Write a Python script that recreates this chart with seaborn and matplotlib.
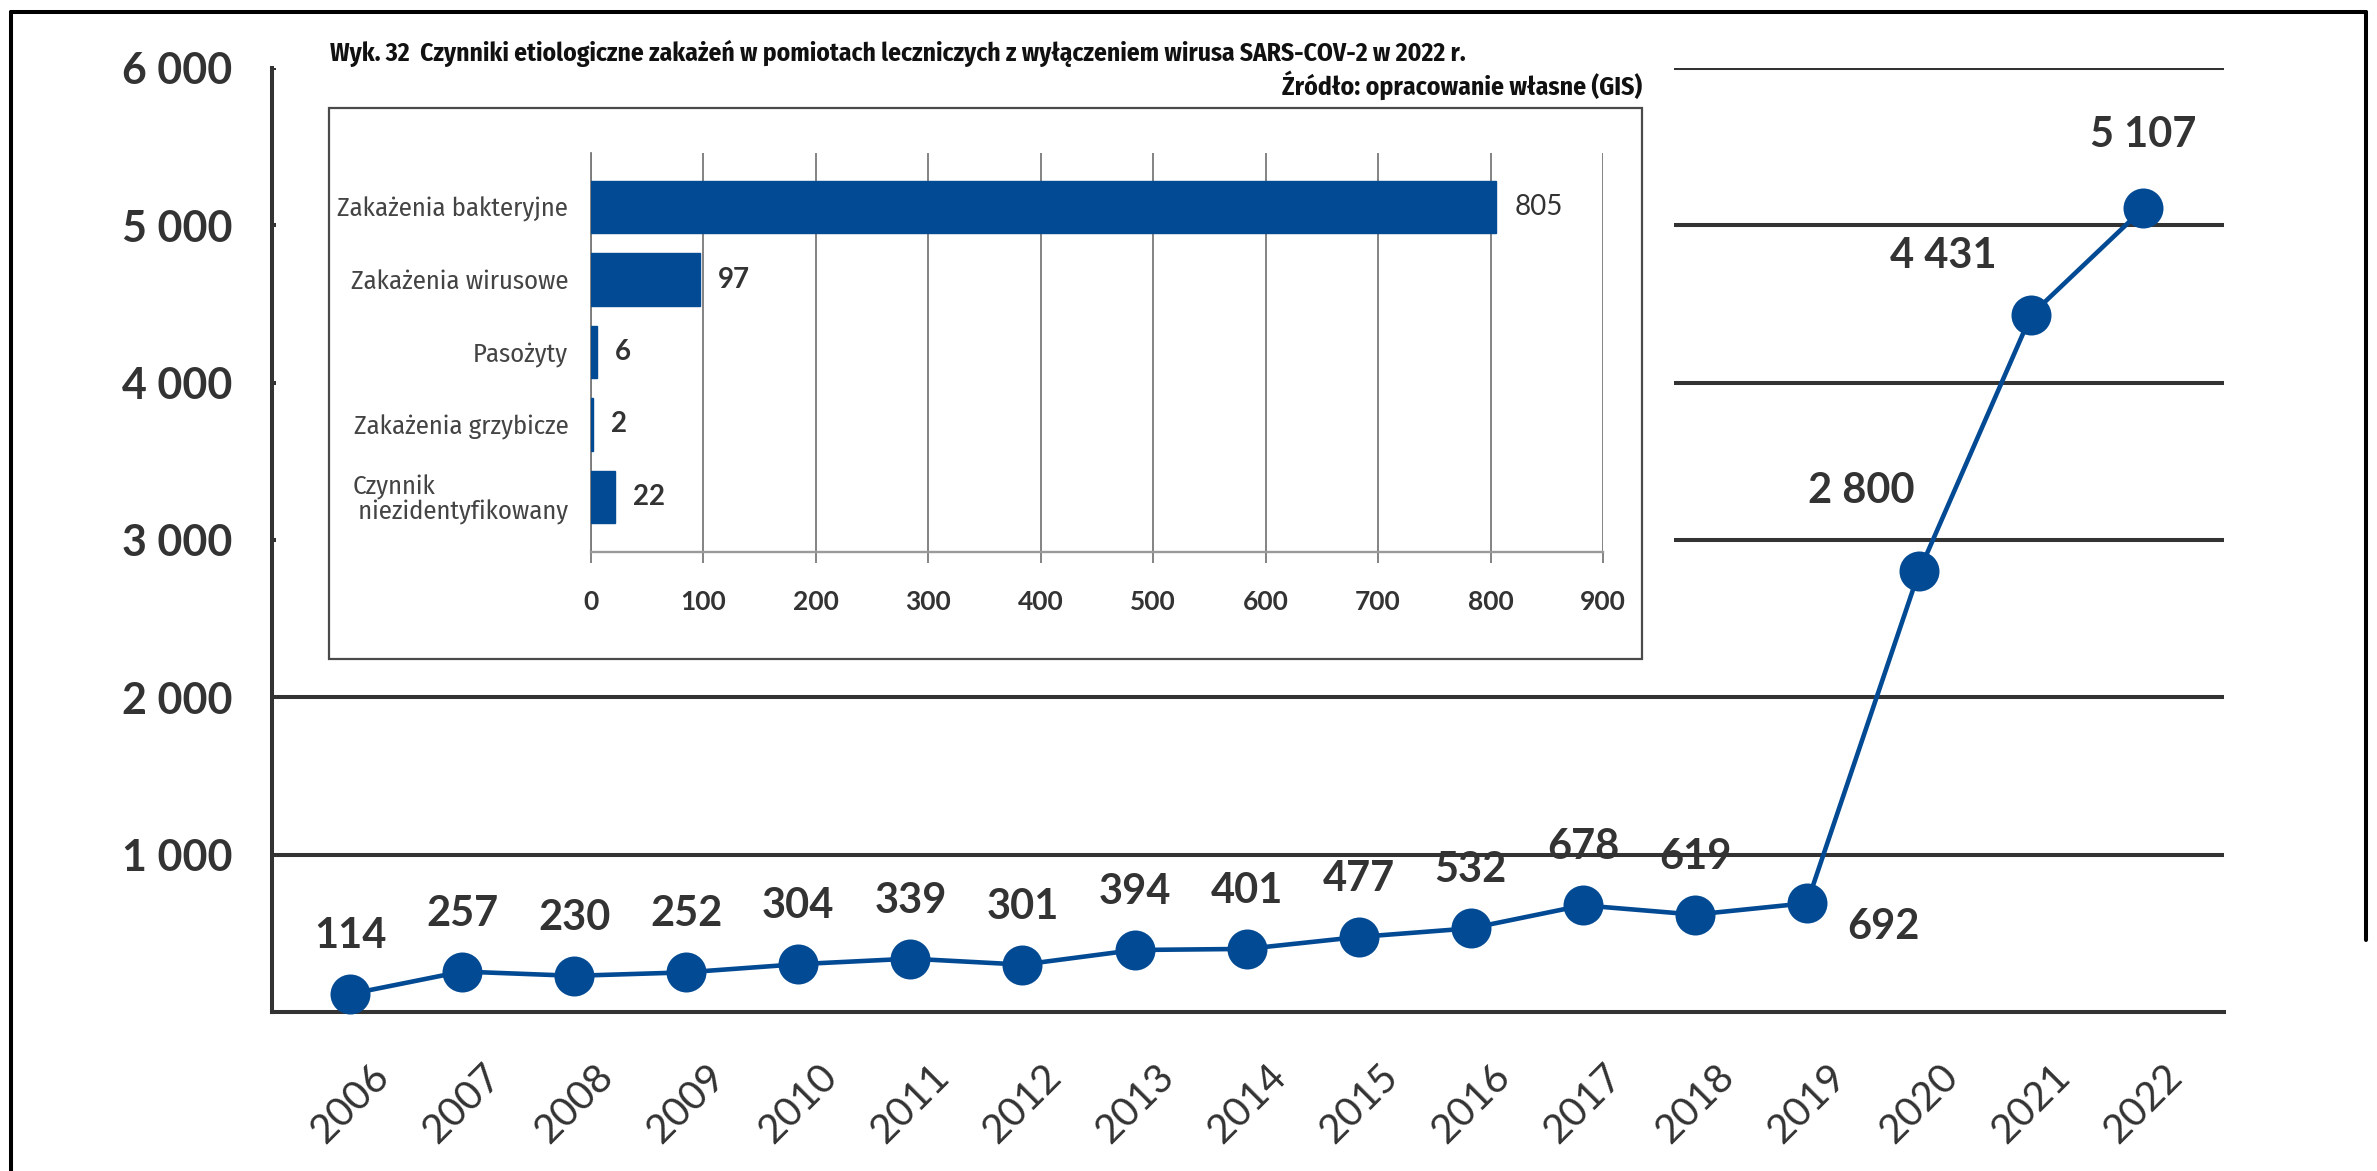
import matplotlib
matplotlib.use("Agg")
import matplotlib.pyplot as plt
import seaborn as sns
from matplotlib import font_manager as fm
from matplotlib.lines import Line2D
from matplotlib.patches import Rectangle

# ---------------- data ----------------
years = [2006, 2007, 2008, 2009, 2010, 2011, 2012, 2013, 2014, 2015,
         2016, 2017, 2018, 2019, 2020, 2021, 2022]
cases = [114, 257, 230, 252, 304, 339, 301, 394, 401, 477,
         532, 678, 619, 692, 2800, 4431, 5107]
y_ticks = [1000, 2000, 3000, 4000, 5000, 6000]
y_tick_labels = ["1 000", "2 000", "3 000", "4 000", "5 000", "6 000"]

factors = ["Zakażenia bakteryjne", "Zakażenia wirusowe", "Pasożyty",
           "Zakażenia grzybicze", "Czynnik\n niezidentyfikowany"]
factor_counts = [805, 97, 6, 2, 22]
bar_ticks = [0, 100, 200, 300, 400, 500, 600, 700, 800, 900]

title = ("Wyk. 32  Czynniki etiologiczne zakażeń w pomiotach leczniczych "
         "z wyłączeniem wirusa SARS-COV-2 w 2022 r.")
source = "Źródło: opracowanie własne (GIS)"

# label offsets (pixels) for point labels: default above
label_offsets = {2019: (76, -20), 2020: (-58, 84), 2021: (-88, 63), 2022: (0, 77)}

BLUE = "#024a93"
DARK = "#333333"

# ---------------- fonts ----------------
available = {f.name for f in fm.fontManager.ttflist}


def pick(cands):
    for c in cands:
        if c in available:
            return c
    return "DejaVu Sans"


MAIN = pick(["Lato", "Open Sans", "Roboto", "DejaVu Sans"])
COND = pick(["Fira Sans Condensed", "Roboto Condensed", "Open Sans Condensed",
             "Liberation Sans Narrow", "Noto Sans Condensed", "Lato"])

sns.set_style("white")
plt.rcParams["font.family"] = [MAIN, "DejaVu Sans"]

W_PX, H_PX = 2377, 1171
fig = plt.figure(figsize=(W_PX / 100, H_PX / 100), dpi=100)
fig.patch.set_facecolor("white")


def fx(px):
    return px / W_PX


def fy(py):
    return 1 - py / H_PX


# ---------------- main axes ----------------
ax = fig.add_axes([fx(272), fy(1012), fx(2224) - fx(272), fy(68) - fy(1012)])
sns.lineplot(x=years, y=cases, ax=ax, color=BLUE, linewidth=3.3, marker="o",
             markersize=28.8, markeredgewidth=0, clip_on=False, zorder=5)
ax.set_xlim(years[0] - 0.696, years[0] + 16.72)
ax.set_ylim(0, 6000)
ax.set_xlabel("")
ax.set_ylabel("")

ax.set_yticks(y_ticks, y_tick_labels)
minor = [v for v in range(0, 6001, 200) if v % 1000 != 0 or v == 0]
ax.set_yticks(minor, minor=True)
ax.tick_params(axis="y", which="major", length=17.3, width=2.9, color=DARK,
               pad=11, labelsize=31, labelcolor=DARK)
ax.tick_params(axis="y", which="minor", length=10.5, width=2.9, color=DARK)
for t in ax.get_yticklabels():
    t.set_fontweight("bold")

ax.set_xticks(years, [str(y) for y in years])
ax.tick_params(axis="x", length=15.8, width=2.9, color=DARK, pad=17,
               labelsize=29, labelcolor=DARK)
for t in ax.get_xticklabels():
    t.set_rotation(45)
    t.set_ha("center")

ax.grid(axis="y", which="major", color=DARK, linewidth=2.9)
ax.grid(axis="x", visible=False)
for s in ["top", "right"]:
    ax.spines[s].set_visible(False)
for s in ["left", "bottom"]:
    ax.spines[s].set_color(DARK)
    ax.spines[s].set_linewidth(2.9)

for yr, v in zip(years, cases):
    dx, dy = label_offsets.get(yr, (0, 62))
    txt = f"{v:,}".replace(",", " ")
    ax.annotate(txt, (yr, v), xytext=(dx, dy - 16), textcoords="offset pixels",
                ha="center", va="baseline", fontsize=30, fontweight="bold",
                color=DARK, zorder=6)

# ---------------- white overlay hiding grid behind inset ----------------
ov = fig.add_axes([fx(276), fy(680), fx(1674) - fx(276), fy(16) - fy(680)])
ov.set_facecolor("white")
ov.set_xticks([])
ov.set_yticks([])
for s in ov.spines.values():
    s.set_visible(False)

# inset frame
fig.add_artist(Rectangle((fx(329), fy(659)), fx(1642) - fx(329), fy(108) - fy(659),
                         transform=fig.transFigure, fill=False,
                         edgecolor="#4a4a4a", linewidth=1.6, zorder=3))

# ---------------- inset bar chart ----------------
axi = fig.add_axes([fx(590.5), fy(552), fx(1603) - fx(590.5), fy(153) - fy(552)])
sns.barplot(x=factor_counts, y=factors, orient="h", color=BLUE, saturation=1,
            width=0.72, ax=axi, zorder=3, edgecolor=BLUE, linewidth=1.0)
axi.set_xlim(0, 900)
axi.set_ylim(4.76, -0.746)
axi.set_xlabel("")
axi.set_ylabel("")
axi.set_axisbelow(True)
axi.set_xticks(bar_ticks, [str(t) for t in bar_ticks])
axi.grid(axis="x", color="#7a7a7a", linewidth=1.3)
axi.grid(axis="y", visible=False)
axi.tick_params(axis="x", length=8, width=1.3, color="#7a7a7a", pad=19,
                labelsize=19, labelcolor=DARK, bottom=True)
for t in axi.get_xticklabels():
    t.set_fontweight("bold")
axi.tick_params(axis="y", length=0, pad=16, labelsize=21, labelcolor="#444444")
for t in axi.get_yticklabels():
    t.set_fontfamily([COND, "DejaVu Sans"])
    t.set_linespacing(1.0)
ylabels = axi.get_yticklabels()
ylabels[-1].set_multialignment("left")
for s in ["top", "right"]:
    axi.spines[s].set_visible(False)
axi.spines["bottom"].set_color("#9a9a9a")
axi.spines["bottom"].set_linewidth(1.7)
axi.spines["left"].set_color("#7a7a7a")
axi.spines["left"].set_linewidth(1.3)

for i, v in enumerate(factor_counts):
    axi.annotate(str(v), (v, i), xytext=(18, 0), textcoords="offset pixels",
                 ha="left", va="center", fontsize=20,
                 fontweight="normal" if v == max(factor_counts) else "bold",
                 color=DARK)

# ---------------- titles ----------------
t1 = fig.text(fx(330), fy(61), title, ha="left", va="baseline", fontsize=16,
              fontweight="bold", color="#111111", family=[COND, "DejaVu Sans"])
t2 = fig.text(fx(1642), fy(95), source, ha="right", va="baseline", fontsize=16,
              fontweight="bold", color="#111111", family=[COND, "DejaVu Sans"])

# ---------------- page frame ----------------
fig.add_artist(Line2D([fx(11), fx(11)], [0, fy(12)], transform=fig.transFigure,
                      color="black", linewidth=2.9))
fig.add_artist(Line2D([fx(11), fx(2366)], [fy(12), fy(12)], transform=fig.transFigure,
                      color="black", linewidth=2.9))
fig.add_artist(Line2D([fx(2366), fx(2366)], [fy(12), fy(940)], transform=fig.transFigure,
                      color="black", linewidth=2.9))

# ---------------- fit condensed texts to measured widths ----------------
fig.canvas.draw()
r = fig.canvas.get_renderer()
for t, target in [(t1, 1135), (t2, 359)]:
    w = t.get_window_extent(r).width
    t.set_fontsize(t.get_fontsize() * target / w)
lab0 = axi.get_yticklabels()[0]
w0 = lab0.get_window_extent(r).width
scale = 231 / w0
for t in axi.get_yticklabels():
    t.set_fontsize(t.get_fontsize() * scale)

fig.savefig("out.png", dpi=100)
